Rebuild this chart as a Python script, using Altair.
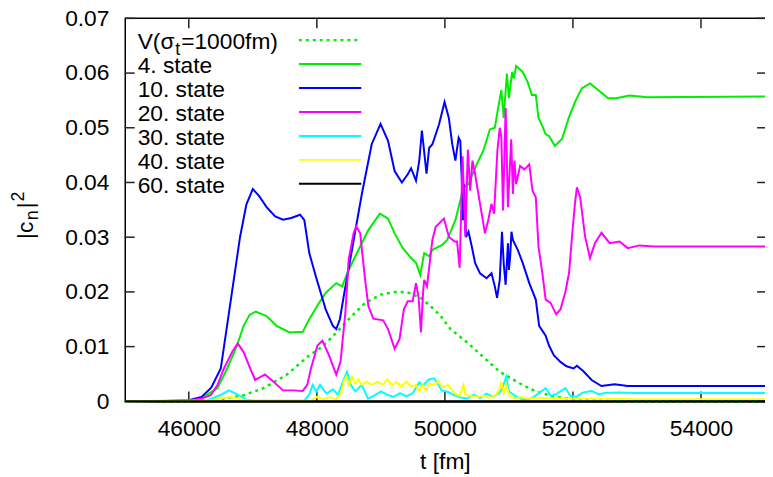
import altair as alt
import pandas as pd

# ---------------- data ----------------
V_T = [45000, 46000, 46500, 46856, 47164, 47523, 47882, 48087, 48300, 48497, 48754, 49000, 49215,
       49400, 49626, 49831, 49934, 50087, 50344, 50600, 50857, 51164, 51420, 51700, 52000, 52500,
       53000, 55000]
V_Y = [0, 0, 0.0004, 0.0011, 0.0024, 0.0048, 0.0084, 0.0100, 0.0125, 0.0150, 0.0180, 0.0195, 0.0200,
       0.0200, 0.0189, 0.0168, 0.0156, 0.0132, 0.0108, 0.0081, 0.0054, 0.0033, 0.0018, 0.0009,
       0.0004, 0.0001, 0, 0]

S4_T = [45000, 46000, 46200, 46446, 46600, 46754, 46856, 46950, 47046, 47215, 47369, 47574, 47780,
        47882, 48036, 48138, 48303, 48395, 48497, 48651, 48805, 48985, 49112, 49215, 49343, 49472,
        49549, 49615, 49677, 49754, 49805, 49959, 50036, 50164, 50292, 50369, 50497, 50600, 50703,
        50780, 50831, 50882, 50918, 50969, 51000, 51051, 51077, 51113, 51215, 51292, 51359, 51420,
        51462, 51523, 51574, 51626, 51718, 51831, 51934, 52036, 52138, 52267, 52395, 52549, 52677,
        52882, 53164, 55000]
S4_Y = [0, 0.0001, 0.0006, 0.0024, 0.0060, 0.0102, 0.0138, 0.0158, 0.0164, 0.0156, 0.0138, 0.0126,
        0.0127, 0.0150, 0.0180, 0.0198, 0.0216, 0.0210, 0.0240, 0.0277, 0.0313, 0.0343, 0.0334,
        0.0307, 0.0280, 0.0262, 0.0253, 0.0231, 0.0271, 0.0265, 0.0277, 0.0286, 0.0295, 0.0331,
        0.0391, 0.0397, 0.0433, 0.0458, 0.0497, 0.0500, 0.0536, 0.0569, 0.0518, 0.0599, 0.0554,
        0.0602, 0.0590, 0.0613, 0.0602, 0.0584, 0.0560, 0.0560, 0.0518, 0.0503, 0.0488, 0.0485,
        0.0467, 0.0480, 0.0518, 0.0548, 0.0572, 0.0581, 0.0569, 0.0554, 0.0554, 0.0559, 0.0556,
        0.0557]

S10_T = [45000, 45500, 46000, 46200, 46350, 46500, 46650, 46800, 46900, 47000, 47100, 47215, 47350,
         47472, 47600, 47738, 47805, 47882, 47985, 48138, 48250, 48303, 48360, 48420, 48549, 48703,
         48857, 48995, 49112, 49215, 49328, 49420, 49472, 49549, 49600, 49641, 49713, 49754, 49805,
         49908, 49995, 50062, 50115, 50164, 50215, 50241, 50265, 50282, 50300, 50330, 50369, 50420,
         50472, 50549, 50651, 50728, 50780, 50815, 50857, 50892, 50920, 50949, 50985, 51000, 51020,
         51040, 51062, 51138, 51215, 51318, 51420, 51472, 51574, 51626, 51703, 51805, 51900, 52010,
         52062, 52164, 52292, 52446, 52651, 52856, 53500, 55000]
S10_Y = [0, 0, 0.0002, 0.0008, 0.0025, 0.0060, 0.0180, 0.0300, 0.0360, 0.0388, 0.0375, 0.0355,
         0.0338, 0.0332, 0.0335, 0.0341, 0.0331, 0.0271, 0.0228, 0.0168, 0.0138, 0.0132, 0.0150,
         0.0192, 0.0277, 0.0379, 0.0470, 0.0507, 0.0476, 0.0421, 0.0400, 0.0415, 0.0426, 0.0403,
         0.0440, 0.0495, 0.0416, 0.0463, 0.0470, 0.0506, 0.0547, 0.0518, 0.0470, 0.0440, 0.0482,
         0.0476, 0.0400, 0.0331, 0.0397, 0.0300, 0.0310, 0.0283, 0.0253, 0.0234, 0.0225, 0.0234,
         0.0210, 0.0189, 0.0222, 0.0310, 0.0250, 0.0213, 0.0289, 0.0240, 0.0265, 0.0310, 0.0295,
         0.0277, 0.0253, 0.0216, 0.0186, 0.0138, 0.0120, 0.0102, 0.0084, 0.0072, 0.0064, 0.0060,
         0.0065, 0.0055, 0.0039, 0.0028, 0.0031, 0.0028, 0.0028, 0.0028]

S20_T = [45000, 46000, 46200, 46343, 46450, 46549, 46677, 46764, 46856, 46959, 47036, 47110, 47190,
         47318, 47472, 47626, 47780, 47850, 47908, 48010, 48087, 48190, 48303, 48369, 48446, 48497,
         48574, 48615, 48677, 48754, 48805, 48882, 49036, 49112, 49215, 49292, 49359, 49420, 49497,
         49549, 49590, 49626, 49660, 49677, 49720, 49805, 49857, 49985, 50062, 50150, 50190, 50231,
         50277, 50318, 50359, 50395, 50431, 50472, 50549, 50626, 50677, 50728, 50769, 50820, 50857,
         50882, 50908, 50949, 50985, 51036, 51062, 51087, 51113, 51174, 51241, 51318, 51369, 51420,
         51462, 51523, 51574, 51651, 51738, 51805, 51882, 51940, 51985, 52030, 52062, 52113, 52190,
         52267, 52344, 52446, 52574, 52728, 52856, 53036, 53267, 55000]
S20_Y = [0, 0.0001, 0.0005, 0.0011, 0.0030, 0.0060, 0.0090, 0.0106, 0.0090, 0.0060, 0.0039, 0.0044,
         0.0049, 0.0036, 0.0020, 0.0020, 0.0019, 0.0030, 0.0060, 0.0102, 0.0111, 0.0084, 0.0049,
         0.0072, 0.0162, 0.0259, 0.0307, 0.0320, 0.0307, 0.0222, 0.0174, 0.0151, 0.0148, 0.0132,
         0.0096, 0.0114, 0.0168, 0.0183, 0.0183, 0.0216, 0.0190, 0.0126, 0.0200, 0.0222, 0.0210,
         0.0295, 0.0319, 0.0334, 0.0301, 0.0292, 0.0292, 0.0244, 0.0448, 0.0301, 0.0460, 0.0385,
         0.0440, 0.0415, 0.0361, 0.0307, 0.0331, 0.0361, 0.0343, 0.0458, 0.0500, 0.0482, 0.0349,
         0.0536, 0.0355, 0.0479, 0.0379, 0.0440, 0.0397, 0.0430, 0.0424, 0.0433, 0.0385, 0.0373,
         0.0283, 0.0234, 0.0186, 0.0180, 0.0159, 0.0168, 0.0200, 0.0235, 0.0300, 0.0360, 0.0391,
         0.0373, 0.0301, 0.0262, 0.0289, 0.0308, 0.0289, 0.0292, 0.0280, 0.0285, 0.0283, 0.0283]

S30_T = [45000, 46300, 46500, 46626, 46750, 46900, 47000, 47800, 47880, 47934, 47990, 48050, 48150,
         48250, 48330, 48420, 48472, 48530, 48600, 48700, 48800, 48900, 49000, 49100, 49200, 49300,
         49400, 49500, 49600, 49650, 49750, 49831, 49900, 49950, 50050, 50150, 50250, 50350, 50450,
         50550, 50650, 50750, 50850, 50900, 50959, 51000, 51100, 51200, 51300, 51400, 51500, 51574,
         51650, 51750, 51882, 51960, 52050, 52150, 52292, 52400, 52500, 52700, 53000, 55000]
S30_Y = [0, 0.0002, 0.0012, 0.0020, 0.0013, 0.0003, 0.0001, 0.0001, 0.0012, 0.0030, 0.0018, 0.0030,
         0.0014, 0.0022, 0.0012, 0.0040, 0.0054, 0.0030, 0.0018, 0.0030, 0.0005, 0.0011, 0.0018,
         0.0012, 0.0008, 0.0015, 0.0009, 0.0015, 0.0035, 0.0028, 0.0040, 0.0042, 0.0030, 0.0020,
         0.0017, 0.0011, 0.0007, 0.0005, 0.0012, 0.0006, 0.0014, 0.0008, 0.0015, 0.0025, 0.0045,
         0.0018, 0.0010, 0.0004, 0.0003, 0.0009, 0.0018, 0.0024, 0.0010, 0.0014, 0.0024, 0.0010,
         0.0008, 0.0016, 0.0019, 0.0013, 0.0015, 0.0016, 0.0015, 0.0015]

S40_T = [45000, 46300, 46500, 46650, 46800, 46950, 47900, 48000, 48100, 48200, 48300, 48380, 48420,
         48460, 48500, 48550, 48600, 48650, 48700, 48780, 48850, 48950, 49030, 49100, 49170, 49250,
         49320, 49400, 49470, 49550, 49600, 49650, 49700, 49760, 49830, 49900, 49960, 50050, 50150,
         50230, 50292, 50320, 50400, 50500, 50600, 50700, 50800, 50857, 50880, 50920, 50960, 51000,
         51100, 51200, 51300, 51500, 51700, 52000, 53000, 55000]
S40_Y = [0, 0.0001, 0.0005, 0.0008, 0.0004, 0.0001, 0.0001, 0.0008, 0.0004, 0.0008, 0.0003, 0.0015,
         0.0036, 0.0045, 0.0030, 0.0045, 0.0032, 0.0040, 0.0030, 0.0036, 0.0030, 0.0036, 0.0030,
         0.0040, 0.0030, 0.0035, 0.0027, 0.0036, 0.0027, 0.0030, 0.0018, 0.0030, 0.0020, 0.0032,
         0.0030, 0.0036, 0.0026, 0.0030, 0.0015, 0.0010, 0.0030, 0.0012, 0.0010, 0.0008, 0.0010,
         0.0006, 0.0012, 0.0024, 0.0036, 0.0015, 0.0030, 0.0012, 0.0005, 0.0008, 0.0005, 0.0006,
         0.0005, 0.0005, 0.0004, 0.0004]

S60_T = [45000, 48000, 51000, 55000]
S60_Y = [0, 0, 0, 0]

SERIES = [
    ("V(σt=1000fm)", V_T, V_Y, "#00ee00", [3, 4]),
    ("4. state", S4_T, S4_Y, "#00ee00", None),
    ("10. state", S10_T, S10_Y, "#0000ff", None),
    ("20. state", S20_T, S20_Y, "#ff00ff", None),
    ("30. state", S30_T, S30_Y, "#00ffff", None),
    ("40. state", S40_T, S40_Y, "#ffff00", None),
    ("60. state", S60_T, S60_Y, "#000000", None),
]

X_TICKS = [46000, 48000, 50000, 52000, 54000]
Y_TICKS = [0, 0.01, 0.02, 0.03, 0.04, 0.05, 0.06, 0.07]
X_DOMAIN = [45000, 55000]
Y_DOMAIN = [0, 0.07]

FONT = "Liberation Sans"
FS = 23
W, H = 647, 387
TICK = 10  # inward tick length in px

xscale = alt.Scale(domain=X_DOMAIN, nice=False, zero=False)
yscale = alt.Scale(domain=Y_DOMAIN, nice=False, zero=False)
xaxis = alt.Axis(values=X_TICKS, format="d", labelFont=FONT, labelFontSize=FS, labelColor="black",
                 ticks=False, tickSize=0, grid=False, domain=True, domainColor="black",
                 domainWidth=2, title=None, labelPadding=17, labelFlush=False, labelOverlap=False)
yaxis = alt.Axis(values=Y_TICKS, labelExpr="datum.value == 0 ? '0' : format(datum.value, '.2f')",
                 labelFont=FONT, labelFontSize=FS, labelColor="black", ticks=False, tickSize=0,
                 grid=False, domain=True, domainColor="black", domainWidth=1.5, title=None,
                 labelPadding=16, labelFlush=False, labelOverlap=False)

layers = []
one = pd.DataFrame({"a": [0]})

# frame top border
layers.append(alt.Chart(one).mark_rule(color="black", strokeWidth=1.5).encode(
    x=alt.X(datum=X_DOMAIN[0], scale=xscale, axis=xaxis),
    x2=alt.datum(X_DOMAIN[1]),
    y=alt.Y(datum=Y_DOMAIN[1], scale=yscale, axis=yaxis)))

# inward ticks on all four sides (gnuplot mirror ticks), one rule per tick
dy_tick = (Y_DOMAIN[1] - Y_DOMAIN[0]) * TICK / H
dx_tick = (X_DOMAIN[1] - X_DOMAIN[0]) * TICK / W
TICK_COLOR = "#222222"
for t in X_TICKS:
    for y0, y1 in [(Y_DOMAIN[0], Y_DOMAIN[0] + dy_tick), (Y_DOMAIN[1], Y_DOMAIN[1] - dy_tick)]:
        layers.append(alt.Chart(one).mark_rule(color=TICK_COLOR, strokeWidth=1.5).encode(
            y=alt.Y(datum=y0, scale=yscale, axis=yaxis),
            y2=alt.datum(y1),
            x=alt.X(datum=t, scale=xscale, axis=xaxis)))
for v in Y_TICKS:
    for x0, x1 in [(X_DOMAIN[0], X_DOMAIN[0] + dx_tick), (X_DOMAIN[1], X_DOMAIN[1] - dx_tick * 0.8)]:
        layers.append(alt.Chart(one).mark_rule(color=TICK_COLOR, strokeWidth=1.5).encode(
            x=alt.X(datum=x0, scale=xscale, axis=xaxis),
            x2=alt.datum(x1),
            y=alt.Y(datum=v, scale=yscale, axis=yaxis)))

# data lines
for name, ts, ys, col, dash in SERIES:
    df = pd.DataFrame({"t": ts, "y": ys})
    kw = dict(color=col, strokeWidth=2 if dash is None else 2.5)
    if dash is not None:
        kw["strokeDash"] = dash
    layers.append(alt.Chart(df).mark_line(**kw).encode(
        x=alt.X("t:Q", scale=xscale, axis=xaxis),
        y=alt.Y("y:Q", scale=yscale, axis=yaxis)))

# legend (gnuplot style: label left, sample right)
ROW0, ROWSTEP = 22, 24.2
for i, (name, ts, ys, col, dash) in enumerate(SERIES):
    ry = ROW0 + i * ROWSTEP
    kw = dict(color=col, strokeWidth=2 if dash is None else 2.5)
    if dash is not None:
        kw["strokeDash"] = dash
    layers.append(alt.Chart(one).mark_rule(**kw).encode(
        x=alt.value(176), x2=alt.value(239), y=alt.value(ry)))
    if i == 0:
        parts = [("V(σ", 13, 0, FS), ("t", 51, 6, 18), ("=1000fm)", 57, 0, FS)]
    else:
        parts = [(name, 13, 0, FS)]
    for txt, px, dy, fs in parts:
        layers.append(alt.Chart(one).mark_text(font=FONT, fontSize=fs, align="left",
                                               baseline="alphabetic", color="black").encode(
            x=alt.value(px), y=alt.value(ry + 9 + dy), text=alt.value(txt)))

# x title
layers.append(alt.Chart(one).mark_text(font=FONT, fontSize=FS, align="center",
                                       baseline="alphabetic", color="black").encode(
    x=alt.value(324), y=alt.value(455), text=alt.value("t [fm]")))

# y title |c_n|^2, rotated
ypieces = [("|c", -93, 223, FS), ("n", -88, 204, 18), ("|", -93, 192, FS), ("2", -102, 185, 18)]
for txt, px, py, fs in ypieces:
    layers.append(alt.Chart(one).mark_text(font=FONT, fontSize=fs, align="left",
                                           baseline="alphabetic", angle=270, color="black").encode(
        x=alt.value(px), y=alt.value(py), text=alt.value(txt)))

chart = alt.layer(*layers).properties(
    width=W, height=H,
    padding={"left": 118, "top": 8, "right": 0, "bottom": 73},
    autosize=alt.AutoSizeParams(type="none"),
).configure_view(stroke=None)

chart.save("out.html", embed_options={"renderer": "svg", "actions": False})
